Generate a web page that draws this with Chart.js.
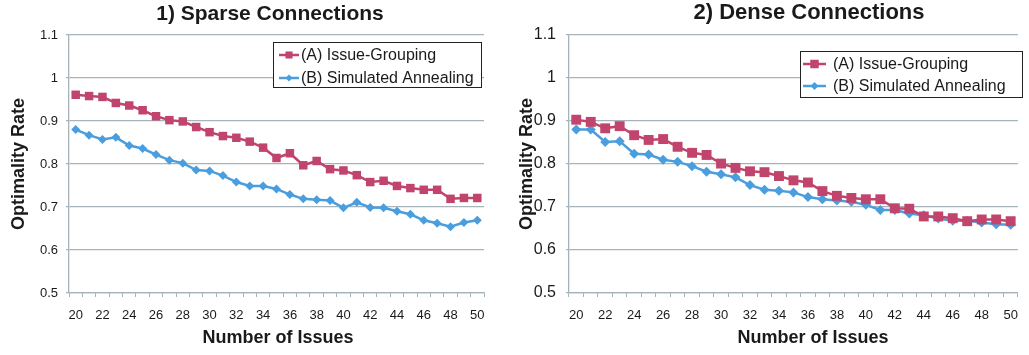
<!DOCTYPE html>
<html>
<head>
<meta charset="utf-8">
<script src="https://cdn.jsdelivr.net/npm/chart.js@4.4.1/dist/chart.umd.min.js"></script>
<style>
  html, body { margin: 0; padding: 0; background: #fff; width: 1029px; height: 355px; overflow: hidden; }
  canvas { position: absolute; top: 0; }
  #sparse { left: 0; }
  #dense { left: 508px; }
</style>
</head>
<body>
<canvas id="sparse" width="514" height="355"></canvas>
<canvas id="dense" width="521" height="355"></canvas>
<script>
// Number of issues on the x axis
const issues = [20, 21, 22, 23, 24, 25, 26, 27, 28, 29, 30, 31, 32, 33, 34, 35,
                36, 37, 38, 39, 40, 41, 42, 43, 44, 45, 46, 47, 48, 49, 50];

// 1) Sparse connections
const sparseGrouping = [0.961, 0.958, 0.956, 0.942, 0.936, 0.925, 0.911, 0.902, 0.899, 0.886, 0.874,
                        0.865, 0.861, 0.852, 0.838, 0.814, 0.825, 0.797, 0.807, 0.788, 0.785, 0.774,
                        0.758, 0.761, 0.749, 0.744, 0.740, 0.740, 0.719, 0.721, 0.721];
const sparseAnnealing = [0.880, 0.867, 0.857, 0.862, 0.843, 0.836, 0.822, 0.809, 0.802, 0.786, 0.784,
                         0.773, 0.758, 0.749, 0.749, 0.742, 0.729, 0.719, 0.717, 0.715, 0.698, 0.711,
                         0.699, 0.698, 0.690, 0.683, 0.669, 0.662, 0.654, 0.664, 0.669];

// 2) Dense connections
const denseGrouping = [0.903, 0.898, 0.883, 0.888, 0.867, 0.856, 0.858, 0.840, 0.826, 0.821, 0.801,
                       0.791, 0.783, 0.781, 0.772, 0.762, 0.757, 0.737, 0.726, 0.721, 0.718, 0.718,
                       0.697, 0.696, 0.678, 0.678, 0.674, 0.667, 0.671, 0.671, 0.667];
const denseAnnealing = [0.880, 0.880, 0.851, 0.853, 0.824, 0.822, 0.810, 0.805, 0.795, 0.782, 0.776,
                        0.769, 0.751, 0.740, 0.738, 0.734, 0.723, 0.718, 0.715, 0.712, 0.705, 0.693,
                        0.693, 0.685, 0.681, 0.673, 0.668, 0.668, 0.664, 0.660, 0.659];

const seriesNames = ['(A) Issue-Grouping', '(B) Simulated Annealing'];
const yTicks = { min: 0.5, max: 1.1, step: 0.1 };

const FONT = '"Liberation Sans", Arial, Helvetica, sans-serif';
const GROUPING_COLOR = '#C0446C';
const ANNEALING_COLOR = '#4A9EDE';
const GRID_COLOR = '#A7B3BB';
const TEXT_COLOR = '#1a1a1a';

// Chart title, x-axis caption and boxed legend drawn on top of the plot
const captionPlugin = {
  id: 'captions',
  afterDraw(chart, args, opts) {
    const ctx = chart.ctx;
    ctx.save();
    ctx.fillStyle = TEXT_COLOR;
    ctx.textAlign = 'center';
    ctx.textBaseline = 'middle';
    ctx.font = 'bold ' + opts.titleSize + 'px ' + FONT;
    ctx.fillText(opts.title, opts.titleX, opts.titleY);
    ctx.font = 'bold 18px ' + FONT;
    ctx.fillText(opts.xTitle, opts.xTitleX, opts.xTitleY);

    const lg = opts.legend;
    ctx.fillStyle = '#fff';
    ctx.fillRect(lg.x, lg.y, lg.w, lg.h);
    ctx.strokeStyle = '#222';
    ctx.lineWidth = 1;
    ctx.strokeRect(lg.x + 0.5, lg.y + 0.5, lg.w, lg.h);
    chart.data.datasets.forEach((ds, i) => {
      const y = lg.y + lg.rowTop + i * lg.rowGap;
      const x0 = lg.x + lg.sampleStart;
      ctx.strokeStyle = ds.borderColor;
      ctx.fillStyle = ds.borderColor;
      ctx.lineWidth = 2.5;
      ctx.beginPath();
      ctx.moveTo(x0, y);
      ctx.lineTo(x0 + lg.sampleLen, y);
      ctx.stroke();
      Chart.helpers.drawPoint(ctx, { pointStyle: ds.pointStyle, radius: lg.markerRadius[i], borderWidth: 0, rotation: 0 },
        x0 + lg.sampleLen / 2, y);
      ctx.fillStyle = TEXT_COLOR;
      ctx.textAlign = 'left';
      ctx.font = '16px ' + FONT;
      ctx.fillText(ds.label, x0 + lg.sampleLen + lg.textGap, y + 1);
    });
    ctx.restore();
  }
};

function makeChart(id, grouping, annealing, cfg) {
  return new Chart(document.getElementById(id), {
    type: 'line',
    data: {
      labels: issues,
      datasets: [
        {
          label: seriesNames[0], data: grouping,
          borderColor: GROUPING_COLOR, backgroundColor: GROUPING_COLOR,
          borderWidth: 2.5, pointStyle: 'rect', pointRadius: cfg.squareRadius,
          pointBackgroundColor: GROUPING_COLOR, pointBorderWidth: 0, tension: 0
        },
        {
          label: seriesNames[1], data: annealing,
          borderColor: ANNEALING_COLOR, backgroundColor: ANNEALING_COLOR,
          borderWidth: 2.5, pointStyle: 'rectRot', pointRadius: cfg.diamondRadius,
          pointBackgroundColor: ANNEALING_COLOR, pointBorderWidth: 0, tension: 0
        }
      ]
    },
    options: {
      responsive: false,
      animation: false,
      events: [],
      layout: { padding: { left: 0, top: 35, right: cfg.padRight, bottom: 0 } },
      plugins: {
        legend: { display: false },
        title: { display: false },
        tooltip: { enabled: false },
        captions: cfg.captions
      },
      scales: {
        x: {
          type: 'category',
          offset: true,
          grid: { offset: true, drawOnChartArea: false, drawTicks: true, tickLength: 4, color: GRID_COLOR, lineWidth: 1 },
          border: { display: true, color: GRID_COLOR, width: 1.3 },
          ticks: {
            autoSkip: false, maxRotation: 0, minRotation: 0, padding: 11,
            color: TEXT_COLOR, font: { family: FONT, size: 13 },
            callback: (v, i) => (i % 2 === 0 ? String(issues[i]) : '')
          },
          afterFit: (scale) => { scale.height = 62; }
        },
        y: {
          min: yTicks.min, max: yTicks.max,
          grid: { color: GRID_COLOR, lineWidth: 1.3, drawTicks: true, tickLength: 3 },
          border: { display: true, color: GRID_COLOR, width: 1.3 },
          ticks: {
            stepSize: yTicks.step, padding: cfg.yTickPad,
            color: TEXT_COLOR, font: { family: FONT, size: cfg.yTickSize },
            callback: (v) => String(Math.round(v * 10) / 10)
          },
          title: {
            display: true, text: 'Optimality Rate', color: TEXT_COLOR,
            font: { family: FONT, size: 18, weight: 'bold' },
            padding: { top: cfg.yTitlePad, bottom: 0 }
          },
          afterFit: (scale) => { scale.width = cfg.yWidth; }
        }
      }
    },
    plugins: [captionPlugin]
  });
}

makeChart('sparse', sparseGrouping, sparseAnnealing, {
  squareRadius: 6, diamondRadius: 4.5, padRight: 30, yWidth: 69, yTickPad: 8, yTickSize: 13, yTitlePad: 8,
  captions: {
    title: '1) Sparse Connections', titleSize: 21, titleX: 270, titleY: 14,
    xTitle: 'Number of Issues', xTitleX: 278, xTitleY: 338,
    legend: { x: 273, y: 42, w: 208, h: 45, rowTop: 13, rowGap: 23, sampleStart: 6, sampleLen: 20,
              textGap: 2, markerRadius: [5, 3.5] }
  }
});

makeChart('dense', denseGrouping, denseAnnealing, {
  squareRadius: 7, diamondRadius: 5, padRight: 5, yWidth: 61, yTickPad: 10, yTickSize: 16, yTitlePad: 8,
  captions: {
    title: '2) Dense Connections', titleSize: 22, titleX: 301, titleY: 13,
    xTitle: 'Number of Issues', xTitleX: 305, xTitleY: 338,
    legend: { x: 292, y: 51, w: 222, h: 46, rowTop: 13, rowGap: 22, sampleStart: 3, sampleLen: 23,
              textGap: 7, markerRadius: [6, 4] }
  }
});
</script>
</body>
</html>
